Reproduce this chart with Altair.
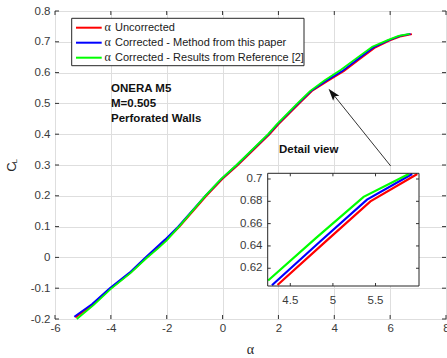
import altair as alt
import pandas as pd

# ---------------- data ----------------
series_names = ["Uncorrected", "Corrected - Method from this paper",
                "Corrected - Results from Reference [2]"]
series_colors = ["#ff0000", "#0000ff", "#00ff00"]

alpha_unc = [-5.27, -4.64, -4.0, -3.3, -2.71, -2.0, -1.54, -0.58, 0.0, 0.55, 1.69, 2.0,
             2.75, 3.2, 3.75, 4.35, 4.9, 5.44, 5.99, 6.4, 6.78]
cl_unc = [-0.195, -0.153, -0.1, -0.05, 0.0, 0.058, 0.1, 0.2, 0.255, 0.3, 0.4, 0.432,
          0.5, 0.54, 0.572, 0.605, 0.643, 0.680, 0.7045, 0.718, 0.725]

alpha_cor = [-5.31, -4.68, -4.04, -3.34, -2.76, -2.06, -1.59, -0.62, -0.04, 0.51, 1.65, 1.96,
             2.71, 3.16, 3.7, 4.285, 4.85, 5.40, 5.93, 6.35, 6.73]
cl_cor = [-0.193, -0.152, -0.1, -0.05, 0.0, 0.058, 0.1, 0.2, 0.255, 0.3, 0.4, 0.432,
          0.5, 0.54, 0.573, 0.6048, 0.644, 0.6815, 0.7045, 0.719, 0.726]

alpha_ref = [-5.22, -4.62, -4.0, -3.3, -2.72, -2.3, -2.0, -1.56, -0.62, -0.05, 0.5, 1.63,
             1.94, 2.68, 3.13, 3.66, 4.24, 4.8, 5.36, 5.89, 6.3, 6.7]
cl_ref = [-0.2, -0.155, -0.102, -0.051, -0.002, 0.03, 0.055, 0.1, 0.2, 0.255, 0.3, 0.4,
          0.432, 0.5, 0.54, 0.575, 0.609, 0.647, 0.684, 0.7045, 0.719, 0.726]

x_ticks = [-6, -4, -2, 0, 2, 4, 6, 8]
y_ticks = [-0.2, -0.1, 0.0, 0.1, 0.2, 0.3, 0.4, 0.5, 0.6, 0.7, 0.8]

inset_x_domain = [4.235, 6.01]
inset_y_domain = [0.6041, 0.7051]
inset_x_ticks = [4.5, 5.0, 5.5]
inset_x_labels = ["4.5", "5", "5.5"]
inset_y_ticks = [0.62, 0.64, 0.66, 0.68, 0.70]
inset_y_labels = ["0.62", "0.64", "0.66", "0.68", "0.7"]

annotation_lines = ["ONERA M5", "M=0.505", "Perforated Walls"]
detail_label = "Detail view"

# ---------------- styling ----------------
FONT = "Liberation Sans"
SERIF = "Liberation Serif"
LABEL = "#3a3a3a"
AX = "#333333"
GRID = "#dedede"
W, H = 391, 308

frames = []
for name, a, c in zip(series_names, [alpha_unc, alpha_cor, alpha_ref], [cl_unc, cl_cor, cl_ref]):
    frames.append(pd.DataFrame({"alpha": a, "cl": c, "series": name}))
df = pd.concat(frames, ignore_index=True)

one = pd.DataFrame({"k": [0]})

X = alt.X("alpha:Q",
          scale=alt.Scale(domain=[-6, 8], nice=False, zero=False),
          axis=alt.Axis(values=x_ticks, grid=True, gridColor=GRID, ticks=False, tickSize=0,
                        domain=False, labelFont=FONT, labelFontSize=11.5, labelColor=LABEL,
                        labelPadding=3, labelFlush=False, labelOverlap=False,
                        labelExpr="toString(datum.value)", title=None))
Y = alt.Y("cl:Q",
          scale=alt.Scale(domain=[-0.2, 0.8], nice=False, zero=False),
          axis=alt.Axis(values=y_ticks, grid=True, gridColor=GRID, ticks=False, tickSize=0,
                        domain=False, labelFont=FONT, labelFontSize=11.5, labelColor=LABEL,
                        labelPadding=5, labelFlush=False, labelOverlap=False,
                        labelExpr="toString(round(datum.value*10)/10)", title=None))

main_layers = []
for name, col in zip(series_names, series_colors):
    main_layers.append(
        alt.Chart(df[df.series == name]).mark_line(color=col, strokeWidth=1.8)
        .encode(x=X, y=Y, order="alpha:Q"))

# inner tick marks on all four sides
xt = pd.DataFrame({"alpha": x_ticks})
yt = pd.DataFrame({"cl": y_ticks})
main_layers.append(alt.Chart(xt).mark_rule(color=AX, strokeWidth=1)
                   .encode(x=X, y=alt.value(H), y2=alt.value(H - 4)))
main_layers.append(alt.Chart(xt).mark_rule(color=AX, strokeWidth=1)
                   .encode(x=X, y=alt.value(0), y2=alt.value(4)))
main_layers.append(alt.Chart(yt).mark_rule(color=AX, strokeWidth=1)
                   .encode(y=Y, x=alt.value(0), x2=alt.value(4)))
main_layers.append(alt.Chart(yt).mark_rule(color=AX, strokeWidth=1)
                   .encode(y=Y, x=alt.value(W), x2=alt.value(W - 4)))

# legend (drawn by hand)
main_layers.append(alt.Chart(one).mark_rect(fill="white", stroke="#262626", strokeWidth=1)
                   .encode(x=alt.value(16.7), x2=alt.value(249), y=alt.value(7.3), y2=alt.value(54.7)))
for i, (name, col) in enumerate(zip(series_names, series_colors)):
    yy = 16.7 + 15 * i
    main_layers.append(alt.Chart(one).mark_rule(color=col, strokeWidth=2)
                       .encode(x=alt.value(21), x2=alt.value(46.7), y=alt.value(yy)))
    main_layers.append(alt.Chart(one).mark_text(font=SERIF, fontSize=12, color="#1a1a1a",
                                                align="left", baseline="middle")
                       .encode(x=alt.value(49.5), y=alt.value(yy - 1), text=alt.value("α")))
    main_layers.append(alt.Chart(one).mark_text(font=FONT, fontSize=11, color="#1a1a1a",
                                                align="left", baseline="middle")
                       .encode(x=alt.value(60), y=alt.value(yy), text=alt.value(name)))

# annotations
for i, t in enumerate(annotation_lines):
    main_layers.append(alt.Chart(one).mark_text(font=FONT, fontSize=11.5, fontWeight="bold",
                                                color="#111111", align="left", baseline="middle")
                       .encode(x=alt.value(56), y=alt.value(78.3 + 15 * i), text=alt.value(t)))
main_layers.append(alt.Chart(one).mark_text(font=FONT, fontSize=11.5, fontWeight="bold",
                                            color="#111111", align="left", baseline="middle")
                   .encode(x=alt.value(224), y=alt.value(139), text=alt.value(detail_label)))

# arrow
main_layers.append(alt.Chart(one).mark_rule(color="#333333", strokeWidth=1)
                   .encode(x=alt.value(335.7), y=alt.value(155), x2=alt.value(277.4), y2=alt.value(82.4)))
main_layers.append(alt.Chart(one).mark_point(shape="M0,-1L0.65,1L0,0.6L-0.65,1Z", filled=True,
                                             color="#111111", opacity=1, size=150, angle=321)
                   .encode(x=alt.value(277.4), y=alt.value(82.4)))

# axis titles
main_layers.append(alt.Chart(one).mark_text(font=SERIF, fontSize=14, color="#262626",
                                            align="center", baseline="middle")
                   .encode(x=alt.value(195.5), y=alt.value(339), text=alt.value("α")))
main_layers.append(alt.Chart(one).mark_text(font=FONT, fontSize=13, color="#262626", angle=270,
                                            align="center", baseline="alphabetic")
                   .encode(x=alt.value(-39), y=alt.value(156), text=alt.value("C")))
main_layers.append(alt.Chart(one).mark_text(font=FONT, fontSize=8, color="#262626", angle=270,
                                            align="center", baseline="alphabetic")
                   .encode(x=alt.value(-38), y=alt.value(150.2), text=alt.value("L")))

main = alt.layer(*main_layers)

# ---------------- inset ----------------
IX0, IX1 = 212.7, 364.0
IYB, IYT = 275.0, 162.3
xs_in = alt.Scale(domain=inset_x_domain, range=[IX0, IX1], nice=False, zero=False)
ys_in = alt.Scale(domain=inset_y_domain, range=[IYB, IYT], nice=False, zero=False)
XI = alt.X("alpha:Q", scale=xs_in, axis=None)
YI = alt.Y("cl:Q", scale=ys_in, axis=None)

inset_layers = [
    alt.Chart(one).mark_rect(fill="white", strokeWidth=0)
    .encode(x=alt.X(datum=inset_x_domain[0], scale=xs_in, axis=None),
            x2=alt.X2(datum=inset_x_domain[1]),
            y=alt.Y(datum=inset_y_domain[0], scale=ys_in, axis=None),
            y2=alt.Y2(datum=inset_y_domain[1]))
]
for name, col in zip(series_names, series_colors):
    inset_layers.append(
        alt.Chart(df[df.series == name])
        .transform_filter(alt.FieldRangePredicate(field="alpha", range=[4.2, 6.05]))
        .mark_line(color=col, strokeWidth=2.2)
        .encode(x=XI, y=YI, order="alpha:Q"))

ixt = pd.DataFrame({"alpha": inset_x_ticks, "lab": inset_x_labels})
iyt = pd.DataFrame({"cl": inset_y_ticks, "lab": inset_y_labels})
inset_layers += [
    alt.Chart(ixt).mark_rule(color=AX, strokeWidth=1).encode(x=XI, y=alt.value(IYB), y2=alt.value(IYB - 3)),
    alt.Chart(ixt).mark_rule(color=AX, strokeWidth=1).encode(x=XI, y=alt.value(IYT), y2=alt.value(IYT + 3)),
    alt.Chart(iyt).mark_rule(color=AX, strokeWidth=1).encode(y=YI, x=alt.value(IX0), x2=alt.value(IX0 + 3)),
    alt.Chart(iyt).mark_rule(color=AX, strokeWidth=1).encode(y=YI, x=alt.value(IX1), x2=alt.value(IX1 - 3)),
    alt.Chart(ixt).mark_text(font=FONT, fontSize=11.5, color=LABEL, align="center", baseline="middle")
    .encode(x=XI, y=alt.value(289.5), text="lab:N"),
    alt.Chart(iyt).mark_text(font=FONT, fontSize=11.5, color=LABEL, align="right", baseline="middle")
    .encode(y=YI, x=alt.value(207.5), text="lab:N"),
    alt.Chart(one).mark_rect(fillOpacity=0, stroke="#262626", strokeWidth=1)
    .encode(x=alt.X(datum=inset_x_domain[0], scale=xs_in, axis=None),
            x2=alt.X2(datum=inset_x_domain[1]),
            y=alt.Y(datum=inset_y_domain[0], scale=ys_in, axis=None),
            y2=alt.Y2(datum=inset_y_domain[1])),
]
inset = alt.layer(*inset_layers)

chart = (
    alt.layer(main, inset)
    .resolve_scale(x="independent", y="independent")
    .properties(width=W, height=H,
                autosize=alt.AutoSizeParams(type="none"),
                padding={"left": 55, "top": 11, "right": 1, "bottom": 39},
                background="white")
    .configure_view(stroke="#444444", strokeWidth=1)
)

chart.save("out.html", embed_options={"renderer": "svg", "actions": False})
